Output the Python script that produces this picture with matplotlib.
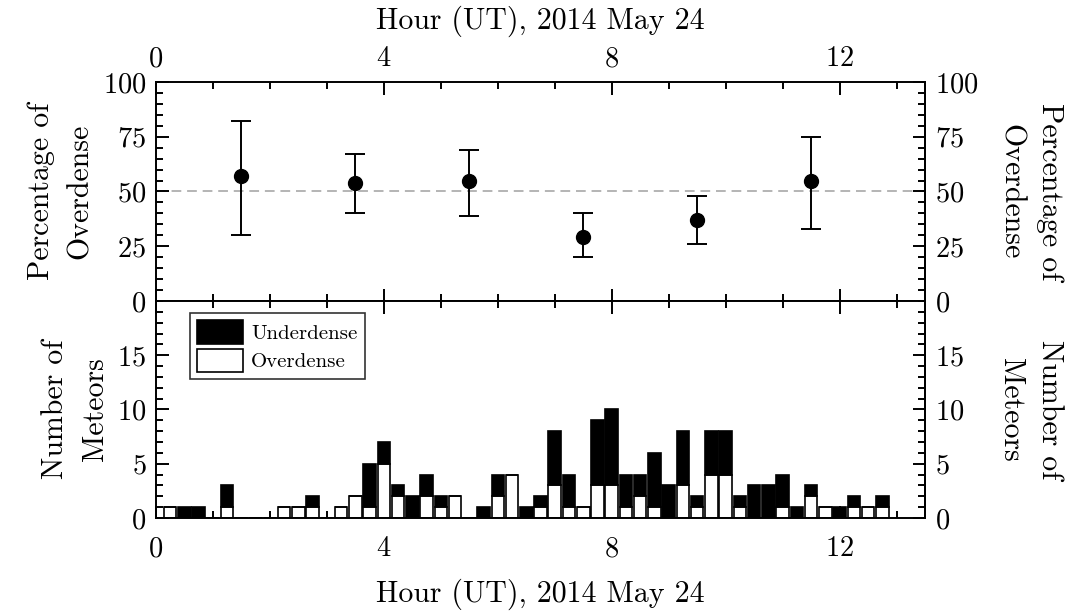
import numpy as np
import matplotlib
matplotlib.use("Agg")
import matplotlib.pyplot as plt
from matplotlib.ticker import MultipleLocator

# percentage of overdense echoes in 2-hour bins
pct_hours = [1.5, 3.5, 5.5, 7.5, 9.5, 11.5]
pct_values = [57, 54, 55, 29, 37, 55]
pct_upper = [82, 67, 69, 40, 48, 75]
pct_lower = [30, 40, 39, 20, 26, 33]

# meteor counts in 15-minute bins
bin_hours = [0.25, 0.5, 0.75, 1.0, 1.25, 1.5, 1.75, 2.0, 2.25, 2.5, 2.75, 3.0, 3.25,
             3.5, 3.75, 4.0, 4.25, 4.5, 4.75, 5.0, 5.25, 5.5, 5.75, 6.0, 6.25, 6.5,
             6.75, 7.0, 7.25, 7.5, 7.75, 8.0, 8.25, 8.5, 8.75, 9.0, 9.25, 9.5, 9.75,
             10.0, 10.25, 10.5, 10.75, 11.0, 11.25, 11.5, 11.75, 12.0, 12.25, 12.5, 12.75]
overdense = [1, 0, 0, 0, 1, 0, 0, 0, 1, 1, 1, 0, 1,
             2, 1, 5, 2, 0, 2, 1, 2, 0, 0, 2, 4, 0,
             1, 3, 1, 1, 3, 3, 1, 2, 1, 0, 3, 1, 4,
             4, 1, 0, 0, 1, 0, 2, 1, 0, 1, 1, 1]
underdense = [0, 1, 1, 0, 2, 0, 0, 0, 0, 0, 1, 0, 0,
              0, 4, 2, 1, 2, 2, 1, 0, 0, 1, 2, 0, 1,
              1, 5, 3, 0, 6, 7, 3, 2, 5, 3, 5, 1, 4,
              4, 1, 3, 3, 3, 1, 1, 0, 1, 1, 0, 1]

plt.rcParams['font.family'] = 'cmr10'
plt.rcParams['mathtext.fontset'] = 'cm'
plt.rcParams['axes.formatter.use_mathtext'] = True
plt.rcParams['axes.linewidth'] = 1.4

fig = plt.figure(figsize=(10.75, 6.13), dpi=100)
ax1 = fig.add_axes([0.1451, 0.509, 0.7154, 0.3573])
ax2 = fig.add_axes([0.1451, 0.155, 0.7154, 0.354])

xlabel = "Hour (UT), 2014 May 24"
tick_fs = 20.5
label_fs = 21.5

def style(ax):
    ax.set_xlim(0, 13.5)
    ax.xaxis.set_major_locator(MultipleLocator(4))
    ax.xaxis.set_minor_locator(MultipleLocator(1))
    ax.tick_params(which='both', direction='in', top=True, right=True,
                   left=True, bottom=True, width=1.4, pad=7, labelsize=tick_fs)
    ax.tick_params(which='major', length=9)
    ax.tick_params(which='minor', length=5)

# top panel
style(ax1)
ax1.axhline(50, color='#b4b4b4', ls=(0, (5, 3)), lw=1.4, zorder=1)
yerr = [np.array(pct_values) - np.array(pct_lower), np.array(pct_upper) - np.array(pct_values)]
ax1.errorbar(pct_hours, pct_values, yerr=yerr, fmt='o', color='black', ms=10,
             ecolor='black', elinewidth=1.4, capsize=7, capthick=1.4, zorder=3)
ax1.set_ylim(0, 100)
ax1.yaxis.set_major_locator(MultipleLocator(25))
ax1.yaxis.set_minor_locator(MultipleLocator(5))
ax1.tick_params(labelbottom=False, labeltop=True, labelright=True)
ax1.xaxis.set_label_position('top')
ax1.set_xlabel(xlabel, fontsize=label_fs, labelpad=12)
ax1.set_ylabel("Percentage of\nOverdense", fontsize=label_fs, linespacing=1.55, labelpad=6)
ax1r = ax1.secondary_yaxis('right')
ax1r.set_yticks([])
ax1r.set_ylabel("Percentage of\nOverdense", fontsize=label_fs, linespacing=1.55,
                rotation=270, va='bottom', labelpad=52)

# bottom panel
style(ax2)
ax2.tick_params(axis='x', which='both', pad=13)
ax2.bar(bin_hours, overdense, width=0.22, color='white', edgecolor='black', lw=1.2,
        label='Overdense', zorder=2)
ax2.bar(bin_hours, underdense, width=0.22, bottom=overdense, color='black',
        edgecolor='black', lw=1.2, label='Underdense', zorder=2)
ax2.set_ylim(0, 20)
ax2.set_yticks([0, 5, 10, 15])
ax2.yaxis.set_minor_locator(MultipleLocator(1))
ax2.tick_params(labelright=True)
ax2.set_xlabel(xlabel, fontsize=label_fs, labelpad=12)
ax2.set_ylabel("Number of\nMeteors", fontsize=label_fs, linespacing=1.55, labelpad=6)
ax2r = ax2.secondary_yaxis('right')
ax2r.set_yticks([])
ax2r.set_ylabel("Number of\nMeteors", fontsize=label_fs, linespacing=1.55,
                rotation=270, va='bottom', labelpad=52)

handles, labels = ax2.get_legend_handles_labels()
leg = ax2.legend(handles[::-1], labels[::-1], loc='upper left',
                 bbox_to_anchor=(0.044, 0.945), borderaxespad=0, fontsize=15,
                 frameon=True, fancybox=False, handlelength=2.2, handleheight=1.35,
                 handletextpad=0.4, labelspacing=0.25, borderpad=0.35)
leg.get_frame().set_edgecolor('black')
leg.get_frame().set_linewidth(1.2)

fig.savefig("out.png", dpi=100)
